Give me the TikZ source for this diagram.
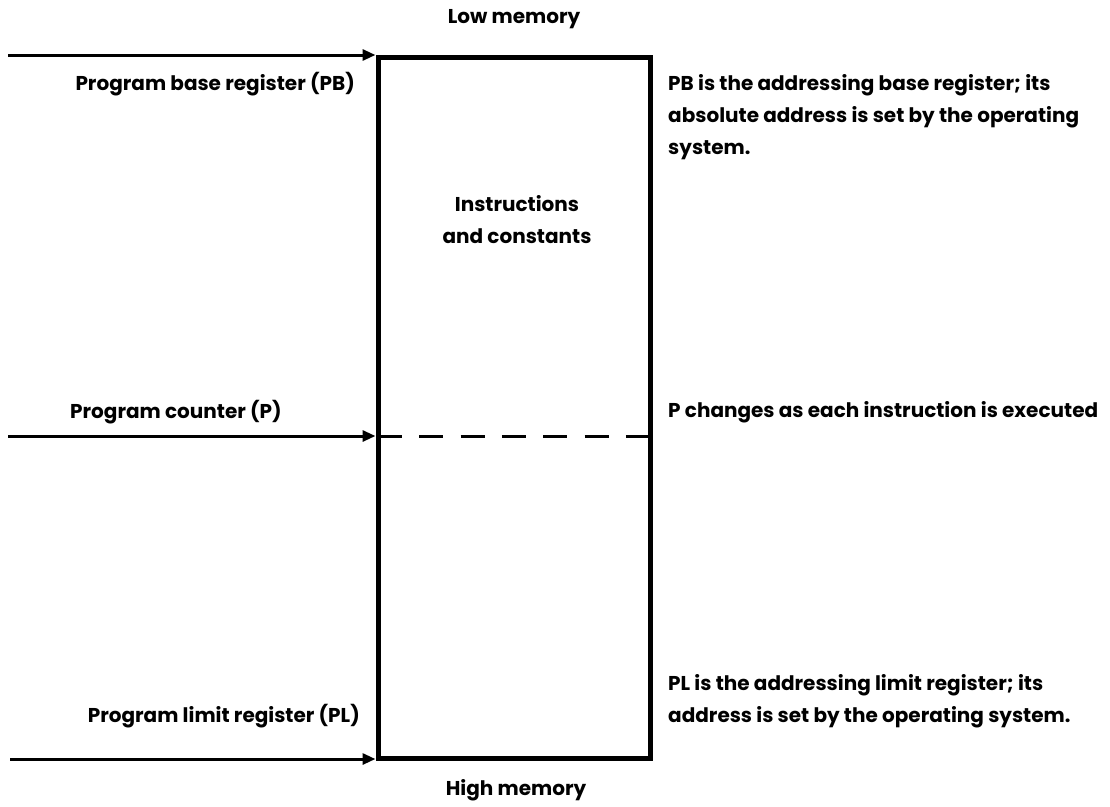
\documentclass[tikz,border=0pt]{standalone}
\usepackage{fontspec}
\setmainfont{Poppins}
\usetikzlibrary{arrows.meta}
\begin{document}
\begin{tikzpicture}[x=1pt,y=-1pt,
  lbl/.style={font=\bfseries\fontsize{20}{32}\selectfont, inner sep=0pt},
  feed/.style={line width=3pt, shorten >=2.5pt, -{Triangle[length=13pt,width=11pt]}},
  membox/.style={draw, line width=5pt, minimum width=272pt, minimum height=701pt, inner sep=0pt, outer sep=0pt},
  divider/.style={line width=3pt, dash pattern=on 24pt off 17.3pt}
]
\useasboundingbox (0,0) rectangle (1110,806);
\node[membox, anchor=north west] (mem) at (378,57) {};
\coordinate (pbsrc) at (8,55);
\coordinate (psrc) at (8,436);
\coordinate (plsrc) at (10,759);
\draw[feed] (pbsrc) -- (pbsrc -| mem.west);
\draw[feed] (psrc) -- (psrc -| mem.west);
\draw[feed] (plsrc) -- (plsrc -| mem.west);
\draw[divider] (psrc -| mem.west) -- (psrc -| mem.east);
\node[lbl] (low) at (514,19) {Low memory};
\node[lbl] (high) at (516,790) {High memory};
\node[lbl, anchor=east] (pbl) at (355,84) {Program base register (PB)};
\node[lbl, align=left, anchor=north west] (pbd) at (668,74) {PB is the addressing base register; its\\absolute address is set by the operating\\system.};
\node[lbl, align=center] (ins) at (517,220) {Instructions\\and constants};
\node[lbl, anchor=west] (pcl) at (70,412) {Program counter (P)};
\node[lbl, anchor=west] (pcd) at (668,412) {P changes as each instruction is executed};
\node[lbl, anchor=east] (pll) at (360,716) {Program limit register (PL)};
\node[lbl, align=left, anchor=north west] (pld) at (668,674) {PL is the addressing limit register; its\\address is set by the operating system.};
\end{tikzpicture}
\end{document}
